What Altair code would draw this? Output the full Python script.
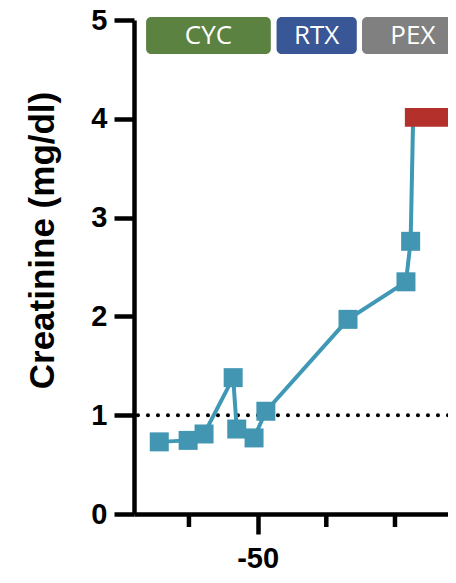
import altair as alt
import pandas as pd

# measurements (days vs creatinine)
days = [-85.8, -75.3, -69.5, -58.9, -57.6, -51.3, -47.0, -17.1, 4.0, 5.7]
creat = [0.73, 0.745, 0.81, 1.38, 0.86, 0.77, 1.04, 1.97, 2.35, 2.76]
line_days = days + [6.6]
line_creat = creat + [4.0]

# treatment bars
treat_names = ["CYC", "RTX", "PEX"]
treat_start = [-90.6, -43.1, -12.0]
treat_end = [-45.2, -13.9, 25.0]
treat_colors = ["#5b8240", "#395696", "#808080"]

# dialysis bar
hd_start = [3.6]
hd_end = [27.3]

ref_value = [1.0]
minor_ticks = [-75, -25, 0]
major_ticks = [-50]
y_ticks = [0, 1, 2, 3, 4, 5]

XMIN, XMAX = -95, 19.3
W, H = 314, 494

df_pts = pd.DataFrame({"x": days, "y": creat})
df_line = pd.DataFrame({"x": line_days, "y": line_creat})
df_tr = pd.DataFrame({"name": treat_names, "x": treat_start, "x2": treat_end,
                      "color": treat_colors})
df_tr["xc"] = (df_tr["x"] + df_tr["x2"]) / 2
df_tr["y"] = 4.656
df_tr["y2"] = 5.03
df_tr["yc"] = 4.843
df_hd = pd.DataFrame({"x": hd_start, "x2": hd_end, "y": [3.92], "y2": [4.11]})
df_ref = pd.DataFrame({"y": ref_value})
df_minor = pd.DataFrame({"x": minor_ticks})

xscale = alt.Scale(domain=[XMIN, XMAX], nice=False, zero=False)
yscale = alt.Scale(domain=[0, 5], nice=False)

FONT = "Liberation Sans"

xaxis = alt.Axis(values=major_ticks, tickSize=20, tickWidth=4.5, domainWidth=4.5,
                 domainColor="black", tickColor="black", labelColor="black",
                 labelFont=FONT, labelFontSize=29, labelFontWeight="bold",
                 labelPadding=10, grid=False, title=None,
                 labelExpr="toString(datum.value)")
yaxis = alt.Axis(values=y_ticks, tickSize=20, tickWidth=4.5, domainWidth=4.5,
                 domainColor="black", tickColor="black", labelColor="black",
                 labelFont=FONT, labelFontSize=29, labelFontWeight="bold",
                 labelPadding=7, grid=False, title="Creatinine (mg/dl)",
                 titleFont=FONT, titleFontSize=35, titleFontWeight="bold",
                 titleColor="black", titleAngle=270, titleX=-81, titleY=220,
                 titleAlign="center", titleBaseline="alphabetic")

base_x = alt.X("x:Q", scale=xscale, axis=xaxis)
base_y = alt.Y("y:Q", scale=yscale, axis=yaxis)

ref = alt.Chart(df_ref).mark_rule(color="black", strokeWidth=4, strokeDash=[0.1, 9.9],
                                  strokeCap="round").encode(
    y=alt.Y("y:Q", scale=yscale, axis=yaxis))

line = alt.Chart(df_line).mark_line(color="#3f98b5", strokeWidth=4).encode(
    x=base_x, y=base_y)

pts = alt.Chart(df_pts).mark_square(color="#4396b2", size=361, opacity=1).encode(
    x=base_x, y=base_y)

hd = alt.Chart(df_hd).mark_rect(color="#b3312a").encode(
    x=alt.X("x:Q", scale=xscale, axis=xaxis), x2="x2:Q",
    y=alt.Y("y:Q", scale=yscale, axis=yaxis), y2="y2:Q")

boxes = alt.Chart(df_tr).mark_rect(cornerRadius=5).encode(
    x=alt.X("x:Q", scale=xscale, axis=xaxis), x2="x2:Q",
    y=alt.Y("y:Q", scale=yscale, axis=yaxis), y2="y2:Q",
    color=alt.Color("color:N", scale=None, legend=None))

labels = alt.Chart(df_tr).mark_text(color="white", font="Open Sans", fontSize=26,
                                    baseline="middle", align="center").encode(
    x=alt.X("xc:Q", scale=xscale, axis=xaxis),
    y=alt.Y("yc:Q", scale=yscale, axis=yaxis),
    text="name:N")

minor = alt.Chart(df_minor).mark_rule(color="black", strokeWidth=4.5).encode(
    x=alt.X("x:Q", scale=xscale, axis=xaxis),
    y=alt.value(H), y2=alt.value(H + 13))

chart = alt.layer(ref, line, pts, hd, boxes, labels, minor).properties(
    width=W, height=H,
    autosize=alt.AutoSizeParams(type="none"),
    padding={"left": 126, "top": 12, "right": 0, "bottom": 61},
).configure_view(stroke=None)

chart.save("out.html", embed_options={"renderer": "svg", "actions": False})
